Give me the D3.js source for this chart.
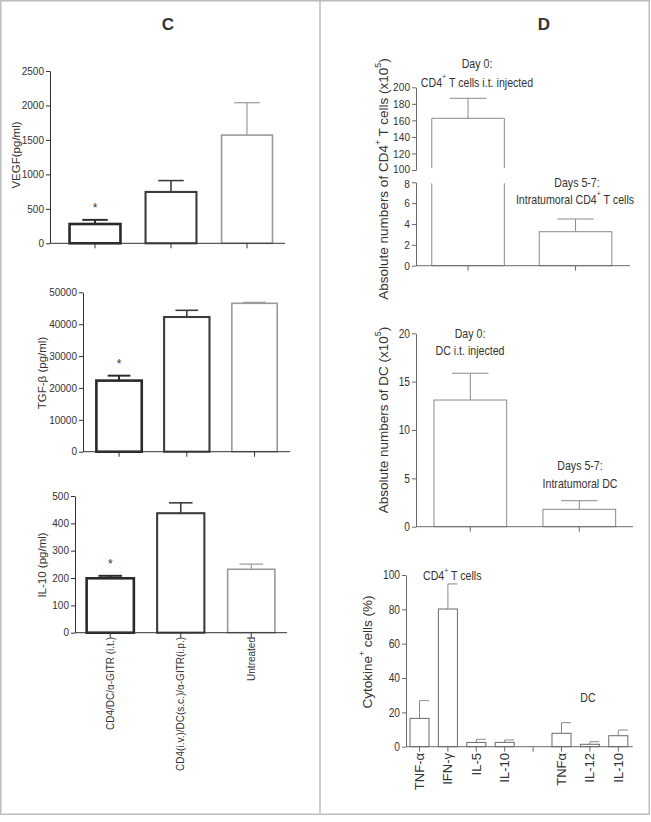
<!DOCTYPE html>
<html><head><meta charset="utf-8">
<script src="https://cdn.jsdelivr.net/npm/d3@7"></script>
<style>
html,body{margin:0;padding:0;background:#fff;}
svg{display:block;font-family:"Liberation Sans",Arial,sans-serif;}
</style></head>
<body>
<svg id="chart" width="651" height="822"></svg>
<script>
// ---------- DATA ----------
const groupsC = ["CD4/DC/α-GITR (i.t.)", "CD4(i.v.)/DC(s.c.)/α-GITR(i.p.)", "Untreated"];
const vegfMean = [280, 745, 1570];
const vegfErr  = [60, 165, 470];
const vegfTicks = [0, 500, 1000, 1500, 2000, 2500];
const tgfMean = [22300, 42250, 46550];
const tgfErr  = [1550, 2100, 300];
const tgfTicks = [0, 10000, 20000, 30000, 40000, 50000];
const il10Mean = [199, 437, 232];
const il10Err  = [9, 38, 19];
const il10Ticks = [0, 100, 200, 300, 400, 500];
const signif = [true, false, false];

const cd4Groups = ["Day 0", "Days 5-7"];
const cd4Mean = [162.5, 3.26];
const cd4Err  = [24.2, 1.22];
const cd4TicksUpper = [100, 120, 140, 160, 180, 200];
const cd4TicksLower = [0, 2, 4, 6, 8];

const dcGroups = ["Day 0", "Days 5-7"];
const dcMean = [13.1, 1.8];
const dcErr  = [2.77, 0.89];
const dcTicks = [0, 5, 10, 15, 20];

const cytoLabels = ["TNF-α", "IFN-γ", "IL-5", "IL-10", "", "TNFα", "IL-12", "IL-10"];
const cytoMean = [16.5, 80.2, 2.5, 2.5, null, 7.8, 1.4, 6.4];
const cytoErr  = [10.3, 14.6, 1.8, 1.4, null, 6.2, 1.5, 3.3];
const cytoTicks = [0, 20, 40, 60, 80, 100];

// ---------- FRAME ----------
const svg = d3.select("#chart");
svg.append("rect").attr("x",0).attr("y",0).attr("width",651).attr("height",822).attr("fill","#fff");
svg.append("rect").attr("x",0.75).attr("y",0.75).attr("width",648.5).attr("height",813.5)
  .attr("fill","none").attr("stroke","#bdbdbd").attr("stroke-width",1.5);
svg.append("line").attr("x1",320).attr("x2",320).attr("y1",1).attr("y2",814)
  .attr("stroke","#bdbdbd").attr("stroke-width",1.5);
svg.append("text").attr("x",168).attr("y",24).attr("text-anchor","middle").attr("dominant-baseline","central")
  .attr("font-size",17).attr("font-weight","bold").attr("fill","#333").text("C");
svg.append("text").attr("x",544).attr("y",24).attr("text-anchor","middle").attr("dominant-baseline","central")
  .attr("font-size",17).attr("font-weight","bold").attr("fill","#333").text("D");

const barStroke = ["#2a2a2a", "#3c3c3c", "#9a9a9a"];
const barWidth = [2.6, 2.1, 1.6];
const fmt = d3.format("d");

function condense(sel, f) {
  sel.each(function () {
    const L = this.getComputedTextLength();
    d3.select(this).attr("textLength", L * f).attr("lengthAdjust", "spacingAndGlyphs");
  });
}

// ---------- helpers ----------
function yAxis(g, scale, ticks, x, fs, color, tickColor, cf) {
  const ax = g.append("g").attr("transform", `translate(${x},0)`)
    .call(d3.axisLeft(scale).tickValues(ticks).tickFormat(fmt).tickSize(4).tickPadding(2).tickSizeOuter(0));
  ax.select(".domain").attr("stroke", color).attr("stroke-width", 1);
  ax.selectAll(".tick line").attr("stroke", color);
  const tx = ax.selectAll(".tick text").attr("font-size", fs).attr("fill", tickColor)
    .attr("font-family", '"Liberation Sans",Arial,sans-serif');
  if (cf) condense(tx, cf);
  return ax;
}
function xAxisLine(g, x0, x1, y, color, tickXs) {
  g.append("line").attr("x1", x0).attr("x2", x1).attr("y1", y).attr("y2", y)
    .attr("stroke", color).attr("stroke-width", 1);
  g.selectAll(null).data(tickXs).enter().append("line")
    .attr("x1", d => d).attr("x2", d => d).attr("y1", y).attr("y2", y + 5)
    .attr("stroke", color).attr("stroke-width", 1);
}
function yLabel(g, x, y, fs, parts) {
  const t = g.append("text").attr("transform", `translate(${x},${y}) rotate(-90)`)
    .attr("text-anchor", "middle").attr("dominant-baseline", "central")
    .attr("font-size", fs).attr("fill", "#333");
  parts.forEach(p => {
    const ts = t.append("tspan").text(p.t);
    if (p.sup) ts.attr("baseline-shift", "super").attr("font-size", fs * 0.65);
  });
  return t;
}
function label(g, x, y, fs, parts, anchor, cf) {
  const t = g.append("text")
    .attr("transform", `translate(${x},${y}) scale(${cf || 1},1)`)
    .attr("text-anchor", anchor || "middle").attr("dominant-baseline", "central")
    .attr("font-size", fs).attr("fill", "#333");
  parts.forEach(p => {
    const ts = t.append("tspan").text(p.t);
    if (p.sup) ts.attr("baseline-shift", "super").attr("font-size", fs * 0.65);
  });
  return t;
}

// ---------- PANEL C ----------
function cChart(cfg) {
  const g = svg.append("g");
  const x = d3.scaleBand().domain(groupsC).range(cfg.xr).paddingInner(0.33).paddingOuter(0.165);
  const y = d3.scaleLinear().domain([0, cfg.ticks[cfg.ticks.length-1]]).range(cfg.yr);
  yAxis(g, y, cfg.ticks, cfg.ax, 10, "#333", "#333");
  groupsC.forEach((k, i) => {
    const m = cfg.mean[i], e = cfg.err[i];
    const bx = x(k), bw = x.bandwidth(), cx = bx + bw / 2;
    g.append("line").attr("x1", cx).attr("x2", cx).attr("y1", y(m)).attr("y2", y(m + e))
      .attr("stroke", barStroke[i]).attr("stroke-width", barWidth[i] * 0.75);
    g.append("line").attr("x1", cx - bw / 4).attr("x2", cx + bw / 4).attr("y1", y(m + e)).attr("y2", y(m + e))
      .attr("stroke", barStroke[i]).attr("stroke-width", barWidth[i] * 0.75);
    g.append("rect").attr("x", bx).attr("y", y(m)).attr("width", bw).attr("height", y(0) - y(m))
      .attr("fill", "#fff").attr("stroke", barStroke[i]).attr("stroke-width", barWidth[i]);
    if (signif[i]) {
      g.append("text").attr("x", cx).attr("y", y(m + e) - 12).attr("text-anchor", "middle")
        .attr("dominant-baseline", "central").attr("font-size", 12).attr("fill", "#333").text("*");
    }
  });
  xAxisLine(g, cfg.ax, cfg.xend, y(0), "#333", groupsC.map(k => x(k) + x.bandwidth() / 2));
  yLabel(g, cfg.lx, cfg.ly, 11.5, cfg.label);
  return { g, x, y };
}
cChart({ mean: vegfMean, err: vegfErr, ticks: vegfTicks, xr: [57, 285], yr: [243.3, 71], ax: 50, xend: 285,
  lx: 16, ly: 155, label: [{ t: "VEGF(pg/ml)" }] });
cChart({ mean: tgfMean, err: tgfErr, ticks: tgfTicks, xr: [85.2, 288.4], yr: [451.7, 292.3], ax: 83, xend: 290,
  lx: 42, ly: 373, label: [{ t: "TGF-β (pg/ml)" }] });
const c3 = cChart({ mean: il10Mean, err: il10Err, ticks: il10Ticks, xr: [75, 286.5], yr: [632.7, 496], ax: 75, xend: 287,
  lx: 42, ly: 565, label: [{ t: "IL-10 (pg/ml)" }] });
groupsC.forEach(k => {
  const cx = c3.x(k) + c3.x.bandwidth() / 2;
  svg.append("text").attr("transform", `translate(${cx},637) rotate(-90)`)
    .attr("text-anchor", "end").attr("dominant-baseline", "central")
    .attr("font-size", 10).attr("fill", "#333").text(k);
});

// ---------- PANEL D ----------
const dStroke = "#8a8a8a", dAxis = "#6a6a6a", CF = 0.85;

// D1: broken axis
(function () {
  const g = svg.append("g");
  const x = d3.scaleBand().domain(cd4Groups).range([414.3, 629.3]).paddingInner(0.325).paddingOuter(0.1625);
  const yU = d3.scaleLinear().domain([100, 200]).range([170, 87.3]);
  const yL = d3.scaleLinear().domain([0, 8]).range([265.7, 182.3]);
  const axU = yAxis(g, yU, cd4TicksUpper, 416, 11.5, dAxis, "#333", 0.88);
  const axL = yAxis(g, yL, cd4TicksLower, 416, 11.5, dAxis, "#333", 0.88);
  // nudge the two labels that meet at the break apart
  axU.selectAll(".tick text").filter(d => d === 100).attr("y", -1.5);
  axL.selectAll(".tick text").filter(d => d === 8).attr("y", 1.5);
  cd4Groups.forEach((k, i) => {
    const m = cd4Mean[i], e = cd4Err[i];
    const bx = x(k), bw = x.bandwidth(), cx = bx + bw / 2;
    const sc = m > 8 ? yU : yL;
    g.append("line").attr("x1", cx).attr("x2", cx).attr("y1", sc(m)).attr("y2", sc(m + e)).attr("stroke", dStroke);
    g.append("line").attr("x1", cx - bw / 4).attr("x2", cx + bw / 4).attr("y1", sc(m + e)).attr("y2", sc(m + e)).attr("stroke", dStroke);
    if (m > 8) {
      g.append("path").attr("d", `M${bx},${yU(100) - 2}V${yU(m)}H${bx + bw}V${yU(100) - 2}`)
        .attr("fill", "#fff").attr("stroke", dStroke);
      g.append("path").attr("d", `M${bx},${yL(8) + 1}V${yL(0)}H${bx + bw}V${yL(8) + 1}`)
        .attr("fill", "#fff").attr("stroke", dStroke);
    } else {
      g.append("rect").attr("x", bx).attr("y", yL(m)).attr("width", bw).attr("height", yL(0) - yL(m))
        .attr("fill", "#fff").attr("stroke", dStroke);
    }
  });
  xAxisLine(g, 416, 630, yL(0), dAxis, cd4Groups.map(k => x(k) + x.bandwidth() / 2));
  label(g, 477, 63, 12.5, [{ t: "Day 0:" }], "middle", CF);
  label(g, 477, 81.5, 12.5, [{ t: "CD4" }, { t: "+", sup: true }, { t: " T cells i.t. injected" }], "middle", CF);
  label(g, 577, 182, 12.5, [{ t: "Days 5-7:" }], "middle", CF);
  label(g, 575, 198.5, 12.5, [{ t: "Intratumoral CD4" }, { t: "+", sup: true }, { t: " T cells" }], "middle", CF);
  yLabel(g, 383, 179, 13.5, [{ t: "Absolute numbers of CD4" }, { t: "+", sup: true }, { t: " T cells (x10" }, { t: "5", sup: true }, { t: ")" }]);
})();

// D2
(function () {
  const g = svg.append("g");
  const x = d3.scaleBand().domain(dcGroups).range([415.8, 633.8]).paddingInner(0.333).paddingOuter(0.1665);
  const y = d3.scaleLinear().domain([0, 20]).range([526.7, 333.3]);
  yAxis(g, y, dcTicks, 416, 12, dAxis, "#333", CF);
  dcGroups.forEach((k, i) => {
    const m = dcMean[i], e = dcErr[i];
    const bx = x(k), bw = x.bandwidth(), cx = bx + bw / 2;
    g.append("line").attr("x1", cx).attr("x2", cx).attr("y1", y(m)).attr("y2", y(m + e)).attr("stroke", dStroke);
    g.append("line").attr("x1", cx - bw / 4).attr("x2", cx + bw / 4).attr("y1", y(m + e)).attr("y2", y(m + e)).attr("stroke", dStroke);
    g.append("rect").attr("x", bx).attr("y", y(m)).attr("width", bw).attr("height", y(0) - y(m))
      .attr("fill", "#fff").attr("stroke", dStroke);
  });
  xAxisLine(g, 416, 633, y(0), dAxis, dcGroups.map(k => x(k) + x.bandwidth() / 2));
  label(g, 470, 333, 12.5, [{ t: "Day 0:" }], "middle", CF);
  label(g, 470, 350, 12.5, [{ t: "DC i.t. injected" }], "middle", CF);
  label(g, 580, 465, 12.5, [{ t: "Days 5-7:" }], "middle", CF);
  label(g, 580, 483, 12.5, [{ t: "Intratumoral DC" }], "middle", CF);
  yLabel(g, 383, 420, 13.5, [{ t: "Absolute numbers of DC (x10" }, { t: "5", sup: true }, { t: ")" }]);
})();

// D3
(function () {
  const g = svg.append("g");
  const idx = d3.range(cytoLabels.length);
  const x = d3.scaleBand().domain(idx).range([405.3, 632.5]).paddingInner(0.33).paddingOuter(0.165);
  const y = d3.scaleLinear().domain([0, 100]).range([746.7, 575]);
  yAxis(g, y, cytoTicks, 406, 12, dAxis, "#333", CF);
  idx.forEach(i => {
    const m = cytoMean[i], e = cytoErr[i];
    if (m == null) return;
    const bx = x(i), bw = x.bandwidth(), cx = bx + bw / 2;
    g.append("line").attr("x1", cx).attr("x2", cx).attr("y1", y(m)).attr("y2", y(m + e)).attr("stroke", dStroke);
    g.append("line").attr("x1", cx).attr("x2", cx + bw / 2).attr("y1", y(m + e)).attr("y2", y(m + e)).attr("stroke", dStroke);
    g.append("rect").attr("x", bx).attr("y", y(m)).attr("width", bw).attr("height", y(0) - y(m))
      .attr("fill", "#fff").attr("stroke", "#6a6a6a");
  });
  xAxisLine(g, 406, 632.7, y(0), dAxis, idx.map(i => x(i) + x.bandwidth() / 2));
  idx.forEach(i => {
    if (!cytoLabels[i]) return;
    g.append("text").attr("transform", `translate(${x(i) + x.bandwidth() / 2},753) rotate(-90)`)
      .attr("text-anchor", "end").attr("dominant-baseline", "central")
      .attr("font-size", 13).attr("fill", "#333").text(cytoLabels[i]);
  });
  label(g, 423, 575, 12.5, [{ t: "CD4" }, { t: "+", sup: true }, { t: " T cells" }], "start", CF);
  label(g, 588, 697, 12.5, [{ t: "DC" }], "middle", CF);
  yLabel(g, 367, 652, 13.5, [{ t: "Cytokine" }, { t: "+", sup: true }, { t: " cells (%)" }]);
})();
</script>
</body></html>
